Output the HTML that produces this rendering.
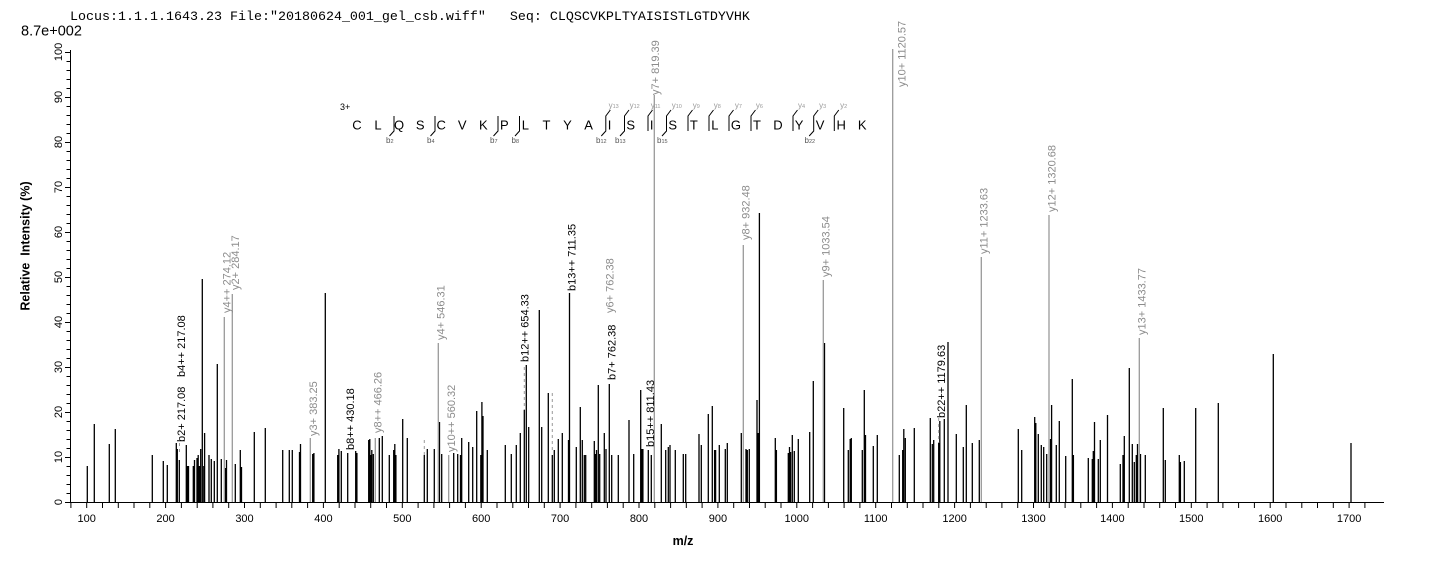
<!DOCTYPE html>
<html><head><meta charset="utf-8"><style>
html,body{margin:0;padding:0;background:#fff;}
svg{display:block;}
text{font-family:"Liberation Sans",Arial,sans-serif;}
.mono{font-family:"Liberation Mono","Courier New",monospace;}
.pl{font-size:11px;}
.g{fill:#8c8c8c;}
.k{fill:#000;}
</style></head><body>
<svg width="1436" height="562" viewBox="0 0 1436 562" xmlns="http://www.w3.org/2000/svg">
<rect width="1436" height="562" fill="#fff"/>
<text class="mono" x="70" y="20" font-size="13.33" fill="#000" style="white-space:pre" xml:space="preserve">Locus:1.1.1.1643.23 File:"20180624_001_gel_csb.wiff"   Seq: CLQSCVKPLTYAISISTLGTDYVHK</text>
<text x="21" y="35.5" font-size="14.5" fill="#000">8.7e+002</text>

<!-- axes -->
<path d="M70.5 50V502.5M67 502.5H1384" stroke="#000" stroke-width="1" fill="none"/>
<!-- y ticks -->
<path stroke="#000" stroke-width="1" fill="none" d="M65 502.5H70.5M66.5 493.5H70.5M66.5 484.5H70.5M66.5 475.5H70.5M66.5 466.5H70.5M65 457.5H70.5M66.5 448.5H70.5M66.5 439.5H70.5M66.5 430.5H70.5M66.5 421.5H70.5M65 412.5H70.5M66.5 403.5H70.5M66.5 394.5H70.5M66.5 385.5H70.5M66.5 376.5H70.5M65 367.5H70.5M66.5 358.5H70.5M66.5 349.5H70.5M66.5 340.5H70.5M66.5 331.5H70.5M65 322.5H70.5M66.5 313.5H70.5M66.5 304.5H70.5M66.5 295.5H70.5M66.5 286.5H70.5M65 277.5H70.5M66.5 268.5H70.5M66.5 259.5H70.5M66.5 250.5H70.5M66.5 241.5H70.5M65 232.5H70.5M66.5 223.5H70.5M66.5 214.5H70.5M66.5 205.5H70.5M66.5 196.5H70.5M65 187.5H70.5M66.5 178.5H70.5M66.5 169.5H70.5M66.5 160.5H70.5M66.5 151.5H70.5M65 142.5H70.5M66.5 133.5H70.5M66.5 124.5H70.5M66.5 115.5H70.5M66.5 106.5H70.5M65 97.5H70.5M66.5 88.5H70.5M66.5 79.5H70.5M66.5 70.5H70.5M66.5 61.5H70.5M65 52.5H70.5"/>
<!-- y labels -->
<g font-size="11" fill="#000" text-anchor="middle">
<text transform="translate(62,502) rotate(-90)">0</text>
<text transform="translate(62,457) rotate(-90)">10</text>
<text transform="translate(62,412) rotate(-90)">20</text>
<text transform="translate(62,367) rotate(-90)">30</text>
<text transform="translate(62,322) rotate(-90)">40</text>
<text transform="translate(62,277) rotate(-90)">50</text>
<text transform="translate(62,232) rotate(-90)">60</text>
<text transform="translate(62,187) rotate(-90)">70</text>
<text transform="translate(62,142) rotate(-90)">80</text>
<text transform="translate(62,97) rotate(-90)">90</text>
<text transform="translate(62,52) rotate(-90)">100</text>
</g>
<text transform="translate(29.5,246) rotate(-90)" text-anchor="middle" font-size="12.5" font-weight="bold" fill="#000" xml:space="preserve" style="white-space:pre">Relative  Intensity (%)</text>

<!-- x ticks -->
<path stroke="#000" stroke-width="1" fill="none" d="M70.9 502V508M86.7 502V508M102.5 502V508M118.3 502V508M134 502V508M149.8 502V508M165.6 502V508M181.4 502V508M197.2 502V508M212.9 502V508M228.7 502V508M244.5 502V508M260.3 502V508M276.1 502V508M291.8 502V508M307.6 502V508M323.4 502V508M339.2 502V508M355 502V508M370.7 502V508M386.5 502V508M402.3 502V508M418.1 502V508M433.9 502V508M449.6 502V508M465.4 502V508M481.2 502V508M497 502V508M512.8 502V508M528.5 502V508M544.3 502V508M560.1 502V508M575.9 502V508M591.7 502V508M607.4 502V508M623.2 502V508M639 502V508M654.8 502V508M670.6 502V508M686.3 502V508M702.1 502V508M717.9 502V508M733.7 502V508M749.5 502V508M765.2 502V508M781 502V508M796.8 502V508M812.6 502V508M828.4 502V508M844.1 502V508M859.9 502V508M875.7 502V508M891.5 502V508M907.3 502V508M923 502V508M938.8 502V508M954.6 502V508M970.4 502V508M986.2 502V508M1001.9 502V508M1017.7 502V508M1033.5 502V508M1049.3 502V508M1065.1 502V508M1080.8 502V508M1096.6 502V508M1112.4 502V508M1128.2 502V508M1144 502V508M1159.7 502V508M1175.5 502V508M1191.3 502V508M1207.1 502V508M1222.9 502V508M1238.6 502V508M1254.4 502V508M1270.2 502V508M1286 502V508M1301.8 502V508M1317.5 502V508M1333.3 502V508M1349.1 502V508M1364.9 502V508"/>
<g font-size="11" fill="#000" text-anchor="middle">
<text x="86.7" y="522">100</text>
<text x="165.6" y="522">200</text>
<text x="244.5" y="522">300</text>
<text x="323.4" y="522">400</text>
<text x="402.3" y="522">500</text>
<text x="481.2" y="522">600</text>
<text x="560.1" y="522">700</text>
<text x="639" y="522">800</text>
<text x="717.9" y="522">900</text>
<text x="796.8" y="522">1000</text>
<text x="875.7" y="522">1100</text>
<text x="954.6" y="522">1200</text>
<text x="1033.5" y="522">1300</text>
<text x="1112.4" y="522">1400</text>
<text x="1191.3" y="522">1500</text>
<text x="1270.2" y="522">1600</text>
<text x="1349.1" y="522">1700</text>
</g>
<text x="683" y="545" text-anchor="middle" font-size="12.5" font-weight="bold" fill="#000">m/z</text>

<!-- black peaks -->
<path stroke="#000" stroke-width="1.3" fill="none" d="M87.3 502V466M94.3 502V424M109.3 502V444M115.3 502V429M152.3 502V455M163.3 502V461M167.3 502V465M176.3 502V443M177.3 502V449M179.3 502V460M186.3 502V445M187.5 502V466M188.5 502V466M193.3 502V466M194.5 502V460M197 502V458M198.2 502V455M199.5 502V466M200.7 502V449M202.3 502V279M203.8 502V466M204.6 502V433M209 502V455M211.3 502V459M214.3 502V461M217.3 502V364M221.3 502V459M225.5 502V468M226.5 502V460M235.3 502V464M240.3 502V450M241.5 502V467M254.3 502V432M265.3 502V428M282.7 502V450M289.3 502V450M292.3 502V450M299.5 502V452M300.5 502V444M312.7 502V454M313.9 502V453M325.3 502V293M337.7 502V455M338.9 502V449M341.3 502V451M347.7 502V453M355.7 502V451M356.9 502V453M368.7 502V440M369.8 502V439M370.8 502V455M371.8 502V450M373.3 502V454M379.3 502V438M382.3 502V436M389.3 502V455M393.7 502V450M394.8 502V444M395.9 502V455M402.7 502V419M407.3 502V438M424.3 502V455M427.3 502V449M434.3 502V449M439.5 502V422M441.7 502V454M453.7 502V453M457.7 502V454M460.5 502V455M461.7 502V438M468.7 502V442M472.7 502V447M476.7 502V411M480.8 502V455M481.9 502V402M483 502V416M487.3 502V450M505.3 502V445M511.3 502V454M516.3 502V445M520.3 502V433M524.3 502V410M526.3 502V365M528.7 502V427M539.3 502V310M541.7 502V427M548.3 502V393M552.3 502V455M554.3 502V450M558.3 502V439M562.3 502V433M568.5 502V440M569.5 502V293M576.3 502V447M580.3 502V407M582.3 502V440M584.3 502V455M585.7 502V455M594.3 502V441M595.4 502V454M596.5 502V450M598.3 502V385M599.7 502V454M604.3 502V433M606 502V449M609.3 502V384M611.7 502V455M618.3 502V455M629 502V420M633.7 502V454M640.7 502V390M641.8 502V449M642.9 502V449M648.3 502V450M651.3 502V455M661.3 502V424M665.7 502V450M668.3 502V447M670 502V445M675.3 502V450M683.3 502V454M685.7 502V454M699 502V434M701.3 502V445M708.3 502V414M712.3 502V406M714.6 502V450M715.6 502V450M719.3 502V445M725.3 502V449M727.3 502V443M741.3 502V433M746 502V449M747.3 502V450M749.3 502V449M757 502V400M758.2 502V433M759.4 502V213M775.3 502V438M776.4 502V450M788.3 502V453M789.5 502V447M790.6 502V452M792.3 502V435M794.3 502V451M798.3 502V439M809.7 502V432M813.3 502V381M824.5 502V343M843.7 502V408M848.3 502V450M850.2 502V439M851.3 502V438M862.3 502V450M864.3 502V390M865.5 502V435M873.3 502V446M877.3 502V435M899.3 502V455M902.7 502V450M903.8 502V429M905.3 502V438M914.3 502V428M930.3 502V418M932.3 502V444M933.7 502V440M938.7 502V443M939.8 502V421M944.3 502V419M948 502V342M956.3 502V434M963.3 502V447M966.3 502V405M972.3 502V443M979.3 502V440M1018.3 502V429M1021.7 502V450M1034.7 502V417M1035.8 502V423M1038.3 502V434M1041.3 502V445M1043.7 502V447M1046.7 502V454M1050.5 502V439M1051.6 502V405M1056.3 502V445M1059.3 502V421M1065.7 502V456M1072.3 502V379M1073.4 502V455M1088.3 502V458M1092.3 502V459M1093.3 502V451M1094.5 502V422M1098.3 502V459M1100.3 502V440M1107.5 502V415M1120.3 502V464M1123 502V455M1124.3 502V436M1129.3 502V368M1132.3 502V444M1134.3 502V462M1136.3 502V455M1137.5 502V444M1140.5 502V454M1145.3 502V455M1163.3 502V408M1165.3 502V460M1179.3 502V455M1180.4 502V462M1184.3 502V461M1195.7 502V408M1218.3 502V403M1273.3 502V354M1351 502V443"/>
<!-- gray (y-ion) peaks -->
<path stroke="#9a9a9a" stroke-width="1.3" fill="none" d="M224.3 502V317M232.3 502V294M310.3 502V438M375.3 502V438M438.3 502V343M448.7 502V455M654.3 502V95M743.3 502V245M823.3 502V280M892.7 502V49M981.3 502V257M1049 502V215M1139.3 502V338"/>
<!-- dashed connectors -->
<path stroke="#9a9a9a" stroke-width="1" stroke-dasharray="3,3" fill="none" d="M179.5 443V453M424.3 440V455M524.3 367V410M552.3 393V450M938.7 418V443"/>

<!-- peak labels -->
<g class="pl">
<text class="k" transform="translate(185,442) rotate(-90)">b2+ 217.08</text>
<text class="k" transform="translate(185,377) rotate(-90)">b4++ 217.08</text>
<text class="g" transform="translate(230.5,313) rotate(-90)">y4++ 274.12</text>
<text class="g" transform="translate(239,290) rotate(-90)">y2+ 284.17</text>
<text class="g" transform="translate(317,436) rotate(-90)">y3+ 383.25</text>
<text class="k" transform="translate(354,450) rotate(-90)">b8++ 430.18</text>
<text class="g" transform="translate(381.5,433) rotate(-90)">y8++ 466.26</text>
<text class="g" transform="translate(444.5,340) rotate(-90)">y4+ 546.31</text>
<text class="g" transform="translate(455,452) rotate(-90)">y10++ 560.32</text>
<text class="k" transform="translate(528.5,362) rotate(-90)">b12++ 654.33</text>
<text class="k" transform="translate(575.5,291) rotate(-90)">b13++ 711.35</text>
<text class="k" transform="translate(615.5,380) rotate(-90)">b7+ 762.38</text>
<text class="g" transform="translate(613.5,313) rotate(-90)">y6+ 762.38</text>
<text class="k" transform="translate(654,447) rotate(-90)">b15++ 811.43</text>
<text class="g" transform="translate(659,95) rotate(-90)">y7+ 819.39</text>
<text class="g" transform="translate(749.7,240) rotate(-90)">y8+ 932.48</text>
<text class="g" transform="translate(829.5,277) rotate(-90)">y9+ 1033.54</text>
<text class="g" transform="translate(905.5,87) rotate(-90)">y10+ 1120.57</text>
<text class="k" transform="translate(945,418) rotate(-90)">b22++ 1179.63</text>
<text class="g" transform="translate(987.5,254) rotate(-90)">y11+ 1233.63</text>
<text class="g" transform="translate(1055.5,212) rotate(-90)">y12+ 1320.68</text>
<text class="g" transform="translate(1145.5,335) rotate(-90)">y13+ 1433.77</text>
</g>

<!-- sequence annotation -->
<text x="340" y="110" font-size="9" fill="#000">3+</text>
<g font-size="13" fill="#000" text-anchor="middle">
<text x="357" y="129.5">C</text>
<text x="378.05" y="129.5">L</text>
<text x="399.1" y="129.5">Q</text>
<text x="420.15" y="129.5">S</text>
<text x="441.2" y="129.5">C</text>
<text x="462.25" y="129.5">V</text>
<text x="483.3" y="129.5">K</text>
<text x="504.35" y="129.5">P</text>
<text x="525.4" y="129.5">L</text>
<text x="546.45" y="129.5">T</text>
<text x="567.5" y="129.5">Y</text>
<text x="588.55" y="129.5">A</text>
<text x="609.6" y="129.5">I</text>
<text x="630.65" y="129.5">S</text>
<text x="651.7" y="129.5">I</text>
<text x="672.75" y="129.5">S</text>
<text x="693.8" y="129.5">T</text>
<text x="714.85" y="129.5">L</text>
<text x="735.9" y="129.5">G</text>
<text x="756.95" y="129.5">T</text>
<text x="778" y="129.5">D</text>
<text x="799.05" y="129.5">Y</text>
<text x="820.1" y="129.5">V</text>
<text x="841.15" y="129.5">H</text>
<text x="862.2" y="129.5">K</text>
</g>
<!-- cleavage markers -->
<path stroke="#000" stroke-width="1" fill="none" d="
M394 116V131L389.5 136
M435 116V131L430.5 136
M498 116V131L493.5 136
M519.5 116V131L515 136
M610.3 110L605.8 116V131L601.3 136
M629 110L624.5 116V131L620 136
M671 110L666.5 116V131L662 136
M818.2 110L813.7 116V131L809.2 136
M648 131V116L652.5 110
M688 131V116L692.5 110
M709 131V116L713.5 110
M729 131V116L733.5 110
M751 131V116L755.5 110
M793 131V116L797.5 110
M834.3 131V116L838.8 110"/>
<g fill="#555" font-size="8">
<text x="386" y="143">b<tspan font-size="5.5">2</tspan></text>
<text x="427" y="143">b<tspan font-size="5.5">4</tspan></text>
<text x="490" y="143">b<tspan font-size="5.5">7</tspan></text>
<text x="511.5" y="143">b<tspan font-size="5.5">8</tspan></text>
<text x="596" y="143">b<tspan font-size="5.5">12</tspan></text>
<text x="615" y="143">b<tspan font-size="5.5">13</tspan></text>
<text x="657" y="143">b<tspan font-size="5.5">15</tspan></text>
<text x="804.5" y="143">b<tspan font-size="5.5">22</tspan></text>
</g>
<g fill="#999" font-size="8">
<text x="608.6" y="108">y<tspan font-size="5.5">13</tspan></text>
<text x="629.6" y="108">y<tspan font-size="5.5">12</tspan></text>
<text x="650.7" y="108">y<tspan font-size="5.5">11</tspan></text>
<text x="671.7" y="108">y<tspan font-size="5.5">10</tspan></text>
<text x="692.8" y="108">y<tspan font-size="5.5">9</tspan></text>
<text x="713.8" y="108">y<tspan font-size="5.5">8</tspan></text>
<text x="734.9" y="108">y<tspan font-size="5.5">7</tspan></text>
<text x="755.9" y="108">y<tspan font-size="5.5">6</tspan></text>
<text x="798" y="108">y<tspan font-size="5.5">4</tspan></text>
<text x="819.1" y="108">y<tspan font-size="5.5">3</tspan></text>
<text x="840.1" y="108">y<tspan font-size="5.5">2</tspan></text>
</g>
</svg>
</body></html>
